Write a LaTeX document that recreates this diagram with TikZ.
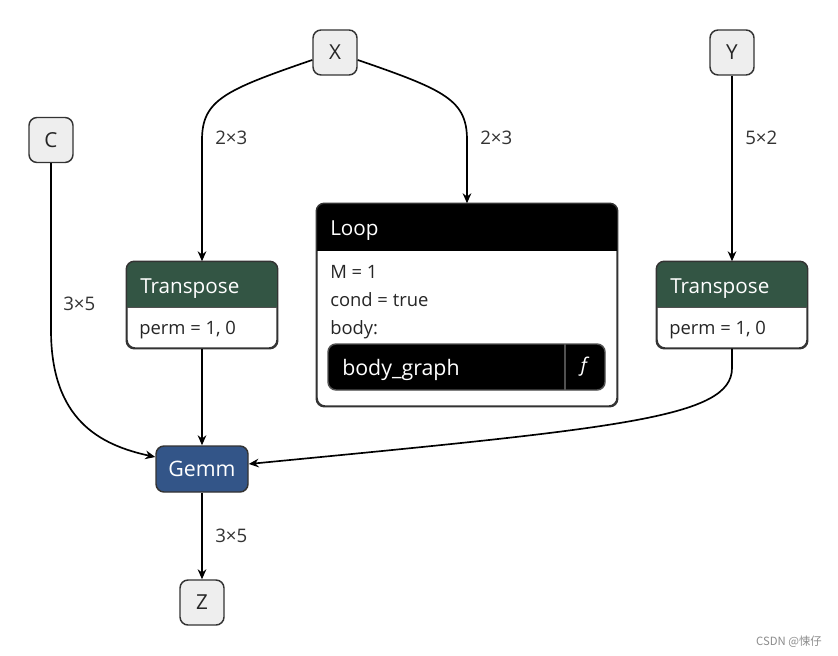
\documentclass[tikz,border=0pt]{standalone}
\usepackage{fontspec}
\setmainfont{Open Sans}
\newfontfamily\cjk{Noto Sans CJK SC}
\usetikzlibrary{arrows.meta}
\definecolor{tgreen}{RGB}{51,85,68}
\definecolor{gblue}{RGB}{51,85,136}
\definecolor{inputfill}{RGB}{238,238,238}
\definecolor{bord}{RGB}{51,51,51}
\definecolor{divg}{RGB}{80,80,80}
\begin{document}
\begin{tikzpicture}[x=0.75pt,y=-0.75pt,
  inbox/.style={draw=bord, line width=1.1pt, fill=inputfill, rounded corners=6pt,
    minimum width=33pt, minimum height=33.75pt, inner sep=0pt,
    font=\fontsize{15.5}{17}\selectfont, text=black!85},
  opbox/.style={draw=bord, line width=1.1pt, rounded corners=6pt, inner sep=0pt, fill=white},
  titletxt/.style={anchor=base west, inner sep=0pt, text=white, font=\fontsize{15.5}{17}\selectfont},
  bodytxt/.style={anchor=base west, inner sep=0pt, text=black!85, font=\fontsize{13.8}{15}\selectfont},
  lbl/.style={anchor=base west, inner sep=0pt, text=black!80, font=\fontsize{14}{15}\selectfont},
  edge/.style={draw=black, line width=1.25pt, -{Stealth[length=7.5pt,width=6.5pt,inset=2.5pt]}}
]
\useasboundingbox (0,0) rectangle (838,656);
\fill[white] (0,0) rectangle (838,656);

% input nodes
\node[inbox] (X) at (335,52.5) {X};
\node[inbox] (Y) at (732,52.5) {Y};
\node[inbox] (C) at (51,140) {C};
\node[inbox] (Z) at (202,602.5) {Z};

% Transpose left
\node[opbox, minimum width=112.5pt, minimum height=64.5pt] (T1) at (202,305) {};
\begin{scope}
  \clip[rounded corners=6pt] (T1.north west) rectangle (T1.south east);
  \fill[tgreen] (T1.north west) rectangle ([yshift=-34.5pt]T1.north east);
\end{scope}
\draw[divg, line width=0.8pt] ([yshift=-34.5pt]T1.north west) -- ([yshift=-34.5pt]T1.north east);
\draw[bord, line width=1.1pt, rounded corners=6pt] (T1.north west) rectangle (T1.south east);
\node[titletxt] (T1t) at (140,293) {Transpose};
\node[bodytxt] (T1b) at (139,334) {perm = 1, 0};

% Transpose right
\node[opbox, minimum width=112.5pt, minimum height=64.5pt] (T2) at (732,305) {};
\begin{scope}
  \clip[rounded corners=6pt] (T2.north west) rectangle (T2.south east);
  \fill[tgreen] (T2.north west) rectangle ([yshift=-34.5pt]T2.north east);
\end{scope}
\draw[divg, line width=0.8pt] ([yshift=-34.5pt]T2.north west) -- ([yshift=-34.5pt]T2.north east);
\draw[bord, line width=1.1pt, rounded corners=6pt] (T2.north west) rectangle (T2.south east);
\node[titletxt] (T2t) at (670,293) {Transpose};
\node[bodytxt] (T2b) at (669,334) {perm = 1, 0};

% Loop
\node[opbox, minimum width=225pt, minimum height=151.5pt] (L) at (467,305) {};
\begin{scope}
  \clip[rounded corners=6pt] (L.north west) rectangle (L.south east);
  \fill[black] (L.north west) rectangle ([yshift=-36pt]L.north east);
\end{scope}
\draw[bord, line width=1.1pt, rounded corners=6pt] (L.north west) rectangle (L.south east);
\node[titletxt] (Lt) at (330,235.5) {Loop};
\node[bodytxt] (Lb1) at (330,278) {M = 1};
\node[bodytxt] (Lb2) at (330,306) {cond = true};
\node[bodytxt] (Lb3) at (330,334) {body:};
\node[draw=divg, line width=1.1pt, fill=black, rounded corners=6pt, inner sep=0pt,
  minimum width=207.75pt, minimum height=34.5pt] (BG) at (466.5,367) {};
\draw[divg, line width=0.9pt] (565,344) -- (565,390);
\node[titletxt, font=\fontsize{16}{18}\selectfont] (BGt) at (342,375) {body\_graph};
\node[text=white, inner sep=0pt, font=\fontsize{15}{17}\selectfont\itshape] (BGf) at (584,367) {ƒ};

% Gemm
\node[draw=bord, line width=1.1pt, fill=gblue, rounded corners=6pt, inner sep=0pt,
  minimum width=69pt, minimum height=34.5pt, text=white, font=\fontsize{16}{18}\selectfont] (G) at (202,469) {Gemm};

% edges
\draw[edge] ([yshift=-5.6pt]X.west) .. controls (225,90) and (202,100) .. (202,140) -- (T1.north);
\draw[edge] ([yshift=-5.6pt]X.east) .. controls (445,90) and (467,100) .. (467,140) -- (L.north);
\draw[edge] (Y.south) -- (T2.north);
\draw[edge] (C.south) -- (51,330) .. controls (51,420) and (100,445) .. ([yshift=9pt]G.west);
\draw[edge] (T1.south) -- (G.north);
\draw[edge] (T2.south) -- (732,368) .. controls (732,418) and (620,428) .. ([yshift=3.75pt]G.east);
\draw[edge] (G.south) -- (Z.north);

% labels
\node[lbl] (l1) at (215,145) {2×3};
\node[lbl] (l2) at (480,145) {2×3};
\node[lbl] (l3) at (745,145) {5×2};
\node[lbl] (l4) at (63,310) {3×5};
\node[lbl] (l5) at (215,542) {3×5};

% watermark
\node[anchor=base east, inner sep=0pt, text=black!45, font=\cjk\fontsize{8.5}{10}\selectfont] (wm) at (822,645) {CSDN @悚仔};
\end{tikzpicture}
\end{document}
